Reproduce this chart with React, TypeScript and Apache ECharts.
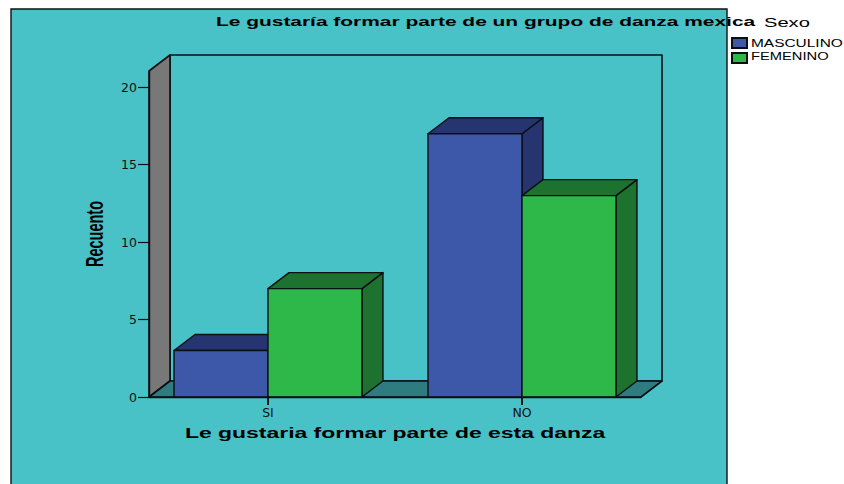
import React, { useEffect, useRef } from "react";
import * as echarts from "echarts";

const categories = ["SI", "NO"];
const masculino = [3, 17];
const femenino = [7, 13];
const yTicks = [0, 5, 10, 15, 20];
const chartTitle = "Le gustaría formar parte de un grupo de danza mexica";
const xName = "Le gustaria formar parte de esta danza";
const yName = "Recuento";
const legendTitle = "Sexo";
const legendNames = ["MASCULINO", "FEMENINO"];

const DX = 21;
const DY = -16;
const BAR = 0.37;
const TICK = 8;
const STROKE = "#0a0f14";
const PANEL = "#48C2C6";

const barRender = (offset: number, front: string, dark: string) => (_p: any, api: any) => {
  const c = api.value(0);
  const v = api.value(1);
  const [xa, yt] = api.coord([c + offset, v]);
  const [xb, yb] = api.coord([c + offset + BAR, 0]);
  const [xc] = api.coord([c, 0]);
  const st = (fill: string) => ({ fill, stroke: STROKE, lineWidth: 1.4, lineJoin: "round" });
  return {
    type: "group",
    children: [
      { type: "polygon", shape: { points: [[xb, yt], [xb + DX, yt + DY], [xb + DX, yb + DY], [xb, yb]] }, style: st(dark) },
      { type: "polygon", shape: { points: [[xa, yt], [xa + DX, yt + DY], [xb + DX, yt + DY], [xb, yt]] }, style: st(dark) },
      { type: "rect", shape: { x: xa, y: yt, width: xb - xa, height: yb - yt }, style: st(front) },
      { type: "polygon", shape: { points: [[xc - 0.8, yb], [xc + 0.8, yb], [xc + 0.8, yb + TICK], [xc - 0.8, yb + TICK]] }, style: { fill: STROKE } },
    ],
  };
};

const wallsRender = (params: any) => {
  const { x, y, width, height } = params.coordSys;
  const r = x + width;
  const b = y + height;
  const st = (fill: string) => ({ fill, stroke: STROKE, lineWidth: 1.6, lineJoin: "round" });
  return {
    type: "group",
    children: [
      { type: "rect", shape: { x: x + DX, y: y + DY, width, height }, style: st(PANEL) },
      { type: "polygon", shape: { points: [[x, y], [x + DX, y + DY], [x + DX, b + DY], [x, b]] }, style: st("#787878") },
      { type: "polygon", shape: { points: [[x, b], [x + DX, b + DY], [r + DX, b + DY], [r, b]] }, style: st("#2E7B80") },
    ],
  };
};

export default function App() {
  const ref = useRef<HTMLDivElement>(null);
  useEffect(() => {
    const chart = echarts.init(ref.current!, undefined, { renderer: "svg" });
    const text = (s: string, x: number, y: number, font: string, scaleX: number, extra: any = {}, align = "left") => ({
      type: "text",
      x,
      y,
      scaleX,
      style: { text: s, font, fill: "#000", textAlign: align, textVerticalAlign: "middle" },
      ...extra,
    });
    chart.setOption({
      animation: false,
      backgroundColor: "#fff",
      grid: { left: 149, right: 203, top: 71, bottom: 87 },
      xAxis: {
        type: "value",
        z: 10,
        min: -0.4685,
        max: 1.4685,
        splitLine: { show: false },
        axisLine: { show: true, onZero: false, lineStyle: { color: STROKE, width: 1.4 } },
        axisTick: { show: false },
        axisLabel: {
          customValues: [0, 1],
          showMinLabel: true,
          showMaxLabel: true,
          formatter: (v: number) => categories[v],
          color: "#111",
          fontFamily: "DejaVu Sans",
          fontSize: 12.5,
          margin: 9,
        },
      },
      yAxis: {
        type: "value",
        z: 10,
        min: 0,
        max: 21.05,
        splitLine: { show: false },
        axisLine: { show: true, onZero: false, lineStyle: { color: STROKE, width: 1.4 } },
        axisTick: { show: true, customValues: yTicks, length: 11, lineStyle: { color: STROKE, width: 1.2 } },
        axisLabel: {
          customValues: yTicks,
          color: "#111",
          fontFamily: "DejaVu Sans",
          fontSize: 12.5,
          margin: 12,
        },
      },
      legend: {
        data: legendNames,
        orient: "vertical",
        left: 731,
        top: 37,
        padding: 0,
        itemWidth: 15,
        itemHeight: 10,
        itemGap: 3,
        icon: "rect",
        formatter: () => " ",
        textStyle: { fontSize: 8 },
      },
      graphic: {
        z: -1,
        elements: [
          { type: "rect", shape: { x: 11, y: 9, width: 716, height: 490 }, style: { fill: PANEL, stroke: "#111", lineWidth: 1.4 } },
          text(chartTitle, 216, 21.5, "bold 13px 'Liberation Sans'", 1.61),
          text(legendTitle, 764, 23, "13px 'Liberation Sans'", 1.55),
          text(legendNames[0], 751, 43, "11.5px 'Liberation Sans'", 1.345),
          text(legendNames[1], 751, 56, "11.5px 'Liberation Sans'", 1.28),
          text(xName, 185, 433, "bold 14px 'Liberation Sans'", 1.638),
          text(yName, 95, 234, "bold 23px 'Liberation Sans'", 0.63, { rotation: Math.PI / 2 }, "center"),
        ],
      },
      series: [
        { type: "custom", name: "walls", silent: true, data: [[0, 0]], renderItem: wallsRender, encode: { x: 0, y: 1 }, z: 1 },
        {
          type: "custom",
          name: legendNames[0],
          data: masculino.map((v, i) => [i, v]),
          encode: { x: 0, y: 1 },
          itemStyle: { color: "#3E58A9", borderColor: STROKE, borderWidth: 1.2 },
          renderItem: barRender(-BAR, "#3E58A9", "#26356F"),
          z: 3,
        },
        {
          type: "custom",
          name: legendNames[1],
          data: femenino.map((v, i) => [i, v]),
          encode: { x: 0, y: 1 },
          itemStyle: { color: "#2FB84A", borderColor: STROKE, borderWidth: 1.2 },
          renderItem: barRender(0, "#2FB84A", "#1D7230"),
          z: 4,
        },
      ],
    });
    return () => chart.dispose();
  }, []);
  return <div ref={ref} style={{ position: "fixed", left: 0, top: 0, width: 844, height: 484 }} />;
}
